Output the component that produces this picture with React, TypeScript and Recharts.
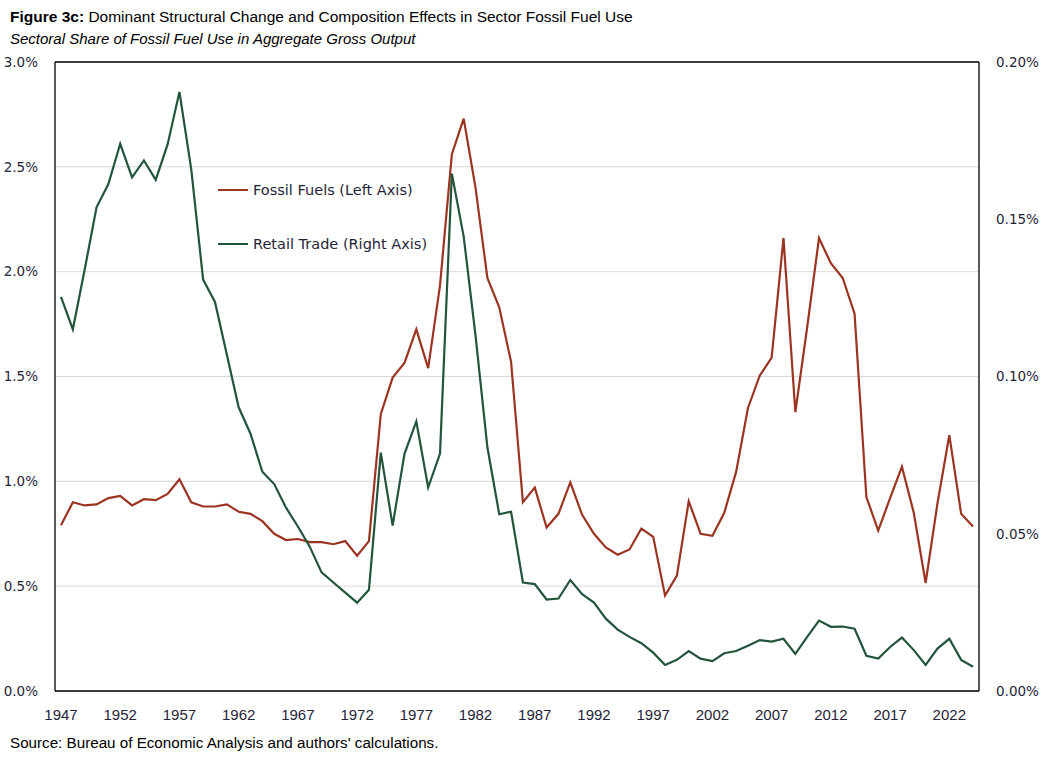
import { LineChart, Line, XAxis, YAxis, CartesianGrid, ReferenceLine } from 'recharts';

// years on the category axis
const YEARS = [
  1947, 1948, 1949, 1950, 1951, 1952, 1953, 1954, 1955, 1956,
  1957, 1958, 1959, 1960, 1961, 1962, 1963, 1964, 1965, 1966,
  1967, 1968, 1969, 1970, 1971, 1972, 1973, 1974, 1975, 1976,
  1977, 1978, 1979, 1980, 1981, 1982, 1983, 1984, 1985, 1986,
  1987, 1988, 1989, 1990, 1991, 1992, 1993, 1994, 1995, 1996,
  1997, 1998, 1999, 2000, 2001, 2002, 2003, 2004, 2005, 2006,
  2007, 2008, 2009, 2010, 2011, 2012, 2013, 2014, 2015, 2016,
  2017, 2018, 2019, 2020, 2021, 2022, 2023, 2024,
];

// fossil fuels share, % (left axis)
const FOSSIL_FUELS = [
  0.79, 0.9, 0.885, 0.89, 0.92, 0.93, 0.885, 0.915, 0.91, 0.94,
  1.01, 0.9, 0.88, 0.88, 0.89, 0.855, 0.845, 0.81, 0.75, 0.72,
  0.725, 0.71, 0.71, 0.7, 0.715, 0.645, 0.715, 1.32, 1.495, 1.565,
  1.725, 1.54, 1.935, 2.56, 2.73, 2.4, 1.97, 1.83, 1.57, 0.9,
  0.97, 0.78, 0.845, 0.995, 0.84, 0.75, 0.685, 0.65, 0.675, 0.775,
  0.735, 0.455, 0.55, 0.905, 0.75, 0.74, 0.85, 1.045, 1.35, 1.505,
  1.59, 2.16, 1.33, 1.735, 2.16, 2.04, 1.97, 1.8, 0.925, 0.765,
  0.92, 1.07, 0.85, 0.515, 0.895, 1.22, 0.845, 0.785,
];

// retail trade share, % (right axis)
const RETAIL_TRADE = [
  0.1253, 0.115, 0.134, 0.1538, 0.1612, 0.174, 0.1633, 0.1687, 0.1625, 0.1738,
  0.1905, 0.1658, 0.1308, 0.1237, 0.107, 0.0902, 0.0818, 0.0697, 0.0658, 0.0583,
  0.0523, 0.0459, 0.0377, 0.0345, 0.0313, 0.0281, 0.0322, 0.0758, 0.0526, 0.0754,
  0.0857, 0.0647, 0.0755, 0.1645, 0.1445, 0.113, 0.0775, 0.0562, 0.057, 0.0345,
  0.034, 0.0291, 0.0294, 0.0353, 0.0308, 0.0281, 0.023, 0.0195, 0.0172, 0.0152,
  0.0122, 0.0083, 0.0099, 0.0127, 0.0103, 0.0095, 0.012, 0.0127, 0.0144, 0.0162,
  0.0157, 0.0166, 0.0118, 0.0172, 0.0224, 0.0204, 0.0205, 0.0198, 0.0112, 0.0103,
  0.014, 0.017, 0.013, 0.0083, 0.0135, 0.0166, 0.0099, 0.0077,
];

const LEFT_TICKS = [0, 0.5, 1, 1.5, 2, 2.5, 3];
const RIGHT_TICKS = [0, 0.05, 0.1, 0.15, 0.2];

const FOSSIL_COLOR = '#9b3421';
const RETAIL_COLOR = '#22553a';
const TEXT_COLOR = '#1f2438';

const data = YEARS.map((year, i) => ({
  year,
  fossil: FOSSIL_FUELS[i],
  retail: RETAIL_TRADE[i],
}));

const LegendRow = ({ color, label, top }: { color: string; label: string; top: number }) => (
  <div style={{ position: 'absolute', left: 218, top, display: 'flex', alignItems: 'center' }}>
    <div style={{ width: 30, height: 2.5, background: color }} />
    <span style={{ marginLeft: 5, fontFamily: 'DejaVu Sans', fontSize: 14.5, color: TEXT_COLOR }}>{label}</span>
  </div>
);

export default function App() {
  return (
    <div style={{ position: 'absolute', left: 0, top: 0, width: 1044, height: 758, background: '#fff' }}>
      <div style={{ position: 'absolute', left: 10, top: 8, fontFamily: 'Liberation Sans', fontSize: 15.5, color: '#000' }}>
        <b>Figure 3c:</b> Dominant Structural Change and Composition Effects in Sector Fossil Fuel Use
      </div>
      <div style={{ position: 'absolute', left: 10, top: 30, fontFamily: 'Liberation Sans', fontSize: 15, fontStyle: 'italic', color: '#000' }}>
        Sectoral Share of Fossil Fuel Use in Aggregate Gross Output
      </div>

      <LineChart width={1044} height={758} data={data} margin={{ top: 62, right: 0, bottom: 27, left: 0 }}>
        <CartesianGrid yAxisId="left" vertical={false} stroke="#d9d9d9" />
        <XAxis
          dataKey="year"
          interval={4}
          padding={{ left: 6, right: 6 }}
          tickLine={false}
          axisLine={{ stroke: '#000', strokeWidth: 1.3 }}
          tickMargin={12}
          height={40}
          tick={{ fontFamily: 'Liberation Sans', fontSize: 15, fill: TEXT_COLOR }}
        />
        <YAxis
          yAxisId="left"
          width={55}
          domain={[0, 3]}
          ticks={LEFT_TICKS}
          tickFormatter={(v: number) => `${v.toFixed(1)}%`}
          tickLine={false}
          axisLine={{ stroke: '#000', strokeWidth: 1.3 }}
          tickMargin={11}
          tick={{ fontFamily: 'DejaVu Sans', fontSize: 13.5, fill: TEXT_COLOR }}
        />
        <YAxis
          yAxisId="right"
          orientation="right"
          width={65}
          domain={[0, 0.2]}
          ticks={RIGHT_TICKS}
          tickFormatter={(v: number) => `${v.toFixed(2)}%`}
          tickLine={false}
          axisLine={{ stroke: '#000', strokeWidth: 1.3 }}
          tickMargin={11}
          tick={{ fontFamily: 'DejaVu Sans', fontSize: 13.5, fill: TEXT_COLOR, textAnchor: 'start' }}
        />
        <ReferenceLine yAxisId="left" y={3} stroke="#000" strokeWidth={1.3} />
        <Line
          yAxisId="left"
          dataKey="fossil"
          type="linear"
          stroke={FOSSIL_COLOR}
          strokeWidth={2.2}
          dot={false}
          isAnimationActive={false}
        />
        <Line
          yAxisId="right"
          dataKey="retail"
          type="linear"
          stroke={RETAIL_COLOR}
          strokeWidth={2.2}
          dot={false}
          isAnimationActive={false}
        />
      </LineChart>

      <LegendRow color={FOSSIL_COLOR} label="Fossil Fuels (Left Axis)" top={182} />
      <LegendRow color={RETAIL_COLOR} label="Retail Trade (Right Axis)" top={236} />

      <div style={{ position: 'absolute', left: 10, top: 734, fontFamily: 'Liberation Sans', fontSize: 15.2, color: '#000' }}>
        Source: Bureau of Economic Analysis and authors' calculations.
      </div>
    </div>
  );
}
